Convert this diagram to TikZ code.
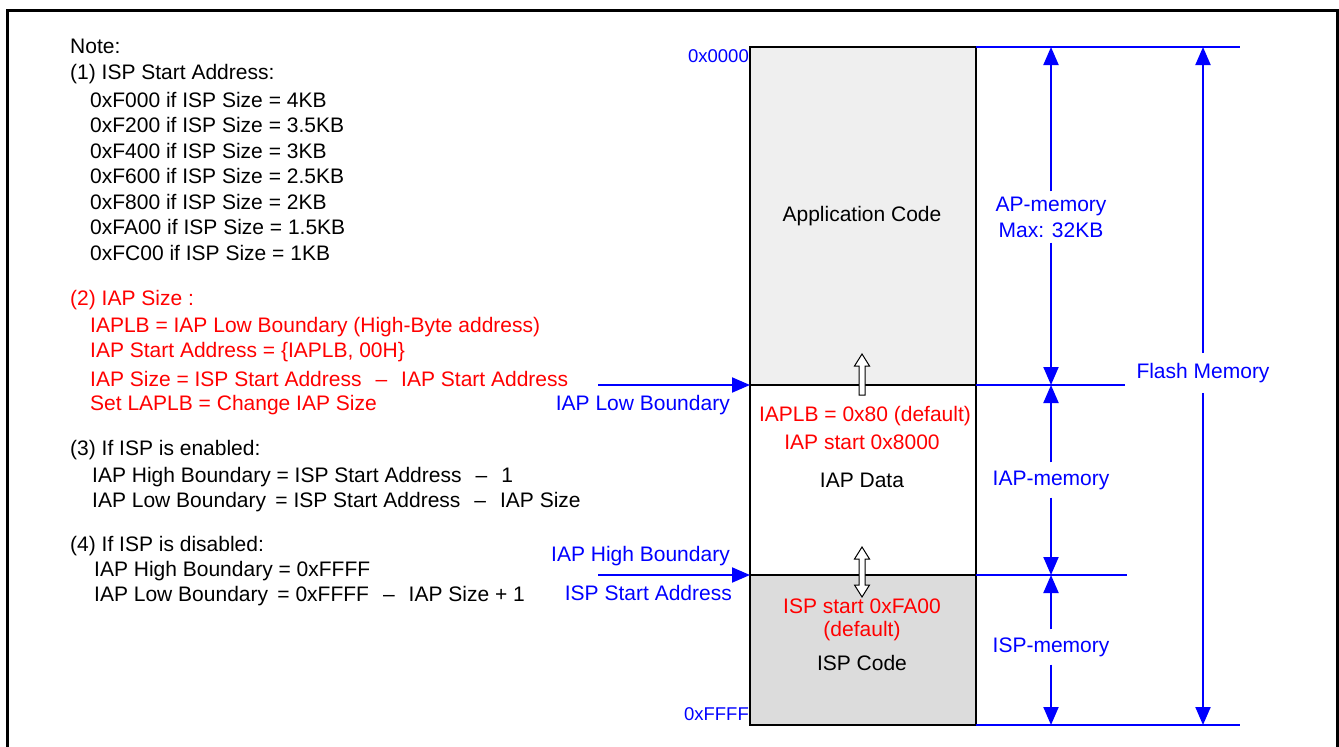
\documentclass[tikz,border=0pt]{standalone}
\usepackage{fontspec}
\setmainfont{Liberation Sans}
\usetikzlibrary{arrows.meta}
\definecolor{bl}{RGB}{0,0,255}
\definecolor{rd}{RGB}{255,0,0}
\definecolor{apfill}{RGB}{239,239,239}
\definecolor{ispfill}{RGB}{220,220,220}
\newcommand{\mydash}{\hspace{14pt}–\hspace{14pt}}
\tikzset{
  txt/.style={inner sep=0pt, font=\fontsize{21}{25}\selectfont},
  lt/.style={txt, anchor=west},
  bt/.style={txt, text=bl},
  rt/.style={txt, text=rd},
  addr/.style={inner sep=0pt, text=bl, font=\fontsize{18.5}{22}\selectfont, anchor=east},
  memb/.style={draw=black, line width=2pt},
  blarr/.style={draw=bl, line width=2pt, -{Triangle[length=18pt,width=15pt]}},
  blline/.style={draw=bl, line width=2pt},
  hollow/.style={draw=black, fill=white, line width=1pt, line join=miter},
}
\begin{document}
\begin{tikzpicture}[x=1pt,y=-1pt]
\useasboundingbox (0,0) rectangle (1339,747);
% frame
\draw[line width=3pt] (7,752) -- (7,10) -- (1337.5,10) -- (1337.5,752);

% notes
\node[lt] (n0) at (70,46) {Note:};
\node[lt] (n1) at (70,74) {(1) ISP Start Address:};
\node[lt] (n1a) at (90,100) {0xF000 if ISP Size = 4KB};
\node[lt] (n1b) at (90,125) {0xF200 if ISP Size = 3.5KB};
\node[lt] (n1c) at (90,151) {0xF400 if ISP Size = 3KB};
\node[lt] (n1d) at (90,176) {0xF600 if ISP Size = 2.5KB};
\node[lt] (n1e) at (90,202) {0xF800 if ISP Size = 2KB};
\node[lt] (n1f) at (90,227) {0xFA00 if ISP Size = 1.5KB};
\node[lt] (n1g) at (90,253) {0xFC00 if ISP Size = 1KB};
\node[lt,text=rd] (n2) at (70,300) {(2) IAP Size :};
\node[lt,text=rd] (n2a) at (90,327) {IAPLB = IAP Low Boundary (High-Byte address)};
\node[lt,text=rd] (n2b) at (90,352) {IAP Start Address = \{IAPLB, 00H\}};
\node[lt,text=rd] (n2c) at (90,379) {IAP Size = ISP Start Address\mydash IAP Start Address};
\node[lt,text=rd] (n2d) at (90,405) {Set LAPLB = Change IAP Size};
\node[lt] (n3) at (70,450) {(3) If ISP is enabled:};
\node[lt] (n3a) at (92,477) {IAP High Boundary = ISP Start Address\mydash 1};
\node[lt] (n3b) at (92,502) {IAP Low Boundary \,= ISP Start Address\mydash IAP Size};
\node[lt] (n4) at (70,546) {(4) If ISP is disabled:};
\node[lt] (n4a) at (94,571) {IAP High Boundary = 0xFFFF};
\node[lt] (n4b) at (94,596) {IAP Low Boundary \,= 0xFFFF\mydash IAP Size + 1};

% memory map
\coordinate (tl) at (750,47);
\coordinate (b1l) at (750,385);
\coordinate (b2l) at (750,575);
\coordinate (bl) at (750,725);
\coordinate (tr) at (976,47);
\coordinate (b1r) at (976,385);
\coordinate (b2r) at (976,575);
\coordinate (br) at (976,725);
\fill[apfill] (tl) rectangle (b1r);
\fill[ispfill] (b2l) rectangle (br);
\draw[memb] (tl) rectangle (br);
\draw[memb] (b1l) -- (b1r);
\draw[memb] (b2l) -- (b2r);

\node[txt] (appc) at (862,216) {Application Code};
\node[rt] (iaplb) at (865,416) {IAPLB = 0x80 (default)};
\node[rt] (iaps) at (862,442) {IAP start 0x8000};
\node[txt] (iapd) at (862,480) {IAP Data};
\node[rt] (isps) at (862,606) {ISP start 0xFA00};
\node[rt] (ispd) at (862,631) {(default)};
\node[txt] (ispc) at (862,663) {ISP Code};

\node[addr] (a0) at (749,56) {0x0000};
\node[addr] (af) at (749,714) {0xFFFF};

% hollow arrows
\draw[hollow] (862,354) -- (869.5,366) -- (865,366) -- (865,395) -- (859,395) -- (859,366) -- (854.5,366) -- cycle;
\draw[hollow] (862,547) -- (869.5,559) -- (865,559) -- (865,585) -- (869.5,585) -- (862,597)
  -- (854.5,585) -- (859,585) -- (859,559) -- (854.5,559) -- cycle;

% left arrows
\coordinate (l1) at (598,385);
\coordinate (l2) at (598,575);
\draw[blarr] (l1) -- (b1l);
\draw[blarr] (l2) -- (b2l);
\node[bt,anchor=east] (lowb) at (730,405) {IAP Low Boundary};
\node[bt,anchor=east] (highb) at (730,556) {IAP High Boundary};
\node[bt,anchor=east] (ispsa) at (732,593) {ISP Start Address};

% right side lines
\coordinate (r0) at (1240,47);
\coordinate (r1) at (1125,385);
\coordinate (r2) at (1127,575);
\coordinate (r3) at (1240,725);
\draw[blline] (tr) -- (r0);
\draw[blline] (b1r) -- (r1);
\draw[blline] (b2r) -- (r2);
\draw[blline] (br) -- (r3);

% dimension labels
\node[bt, align=center, inner sep=5pt] (apm) at (1051,217) {AP-memory\\[1pt]Max: 32KB};
\node[bt, inner sep=8pt] (iapm) at (1051,480) {IAP-memory};
\node[bt, inner sep=8pt] (ispm) at (1051,647) {ISP-memory};
\node[bt, inner sep=10pt] (flm) at (1203,373) {Flash Memory};

\coordinate (v0) at (1051,47);
\coordinate (v1) at (1051,385);
\coordinate (v2) at (1051,575);
\coordinate (v3) at (1051,725);
\coordinate (w0) at (1203,47);
\coordinate (w3) at (1203,725);
\draw[blarr] (apm.north) -- (v0);
\draw[blarr] (apm.south) -- (v1);
\draw[blarr] (iapm.north) -- (v1);
\draw[blarr] (iapm.south) -- (v2);
\draw[blarr] (ispm.north) -- (v2);
\draw[blarr] (ispm.south) -- (v3);
\draw[blarr] (flm.north -| w0) -- (w0);
\draw[blarr] (flm.south -| w0) -- (w3);
\end{tikzpicture}
\end{document}
